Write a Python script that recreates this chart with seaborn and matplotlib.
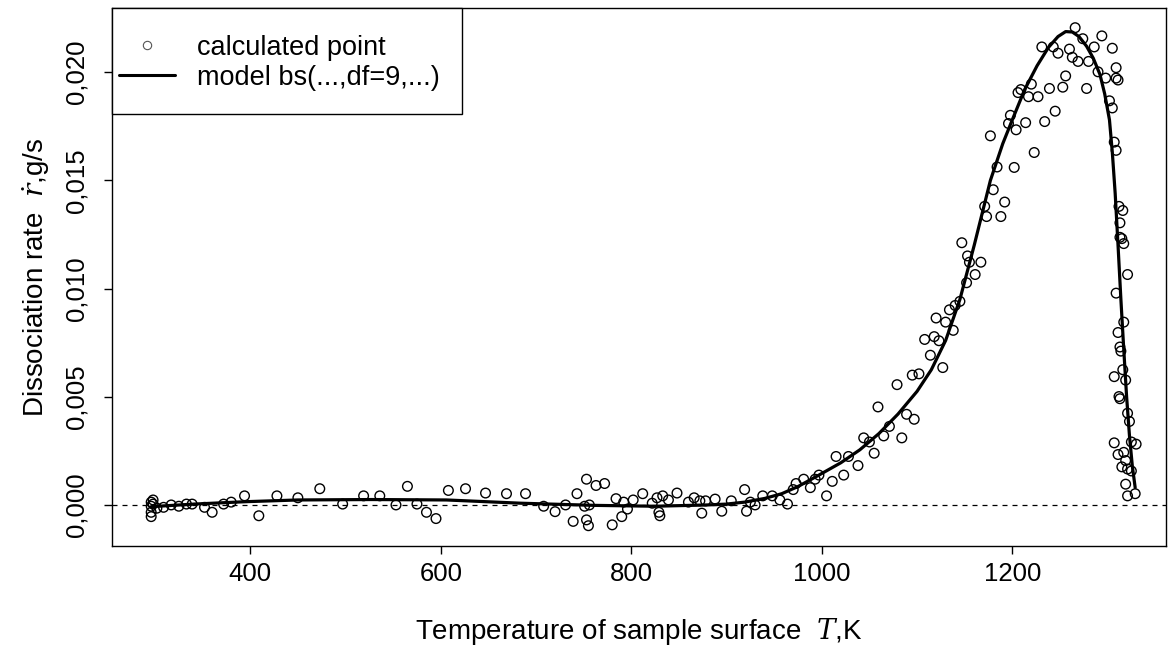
import numpy as np
import pandas as pd
import matplotlib
matplotlib.use("Agg")
import matplotlib.pyplot as plt
import seaborn as sns
from matplotlib.ticker import FuncFormatter
from matplotlib.lines import Line2D
from matplotlib.patches import Rectangle

# ---- data ----
temp_pts = [296, 296, 296, 296, 298, 298, 302, 309, 317, 325, 333, 339, 352, 360, 372, 380, 394, 409, 428, 450,
            473, 497, 519, 536, 553, 565, 575, 585, 595, 608, 626, 647, 669, 689, 708, 720, 731, 739, 743, 751,
            753, 753, 755, 756, 763, 772, 780, 784, 790, 792, 796, 802, 812, 822, 827, 829, 830, 833, 839, 848,
            860, 866, 872, 874, 878, 888, 895, 905, 919, 921, 925, 930, 938, 948, 956, 964, 970, 973, 981, 988,
            993, 997, 1005, 1011, 1015, 1023, 1028, 1038, 1044, 1050, 1055, 1059, 1065, 1071, 1079, 1084, 1089, 1095, 1097, 1102,
            1108, 1114, 1118, 1120, 1123, 1127, 1130, 1134, 1138, 1140, 1145, 1147, 1152, 1153, 1155, 1161, 1167, 1171, 1173, 1177,
            1180, 1184, 1188, 1192, 1196, 1198, 1202, 1204, 1206, 1209, 1214, 1217, 1220, 1223, 1227, 1231, 1234, 1239, 1243, 1245,
            1248, 1253, 1256, 1260, 1263, 1266, 1269, 1274, 1278, 1280, 1286, 1290, 1294, 1298, 1302, 1305, 1305, 1307, 1309, 1309,
            1309, 1311, 1312, 1313, 1313, 1315, 1316, 1317, 1321, 1309, 1311, 1313, 1314, 1317, 1307, 1313, 1316, 1319, 1321, 1323,
            1325, 1307, 1311, 1317, 1319, 1321, 1325, 1319, 1321, 1329, 1330, 1315, 1312]
rate_pts = [1.3, -0.6, -3.4, -5.4, 2.3, 0.4, -1.5, -1.1, 0.0, -0.6, 0.4, 0.4, -1.1, -3.4, 0.4, 1.3, 4.2, -5.0, 4.2, 3.3,
            7.5, 0.4, 4.2, 4.2, 0.0, 8.6, 0.4, -3.4, -6.3, 6.7, 7.5, 5.5, 5.2, 5.2, -0.6, -3.1, 0.0, -7.6, 5.2, -0.6,
            11.9, -6.9, -9.6, 0.0, 9.0, 9.9, -9.2, 2.9, -5.4, 1.3, -1.9, 2.3, 5.2, 0.8, 3.3, -3.4, -5.0, 4.2, 2.3, 5.5,
            1.3, 3.3, 1.9, -3.8, 1.9, 2.7, -2.9, 1.9, 7.1, -2.9, 1.3, 0.0, 4.2, 4.2, 2.3, 0.4, 7.1, 9.9, 11.9, 8.0,
            11.9, 13.8, 4.2, 10.9, 22.4, 13.8, 22.4, 18.2, 31.0, 29.1, 23.9, 45.3, 31.9, 36.3, 55.6, 31.0, 41.9, 60.0, 39.6, 60.6,
            76.5, 69.2, 77.8, 86.4, 75.9, 63.5, 84.5, 90.2, 80.7, 92.2, 94.1, 121.2, 102.7, 115.1, 112.2, 106.5, 112.2, 138.0, 133.3, 170.6,
            145.7, 156.2, 133.3, 140.0, 176.3, 180.1, 156.0, 173.4, 190.6, 192.0, 176.7, 188.7, 194.5, 162.9, 188.7, 211.7, 177.2, 192.5, 211.7, 182.0,
            208.8, 193.1, 198.3, 210.7, 206.9, 220.6, 205.0, 215.5, 192.5, 205.0, 211.7, 200.2, 216.8, 197.3, 186.8, 211.1, 183.5, 167.7, 202.1, 197.3,
            163.9, 196.4, 138.0, 130.4, 123.7, 123.1, 136.1, 120.8, 106.5, 97.9, 79.7, 73.0, 71.1, 84.5, 59.3, 49.1, 62.5, 57.7, 42.4, 38.6,
            29.1, 28.7, 23.3, 24.3, 20.5, 16.6, 15.7, 9.6, 4.2, 5.2, 28.1, 17.6, 50.1]
rate_pts = [r * 1e-4 for r in rate_pts]

temp_fit = [296, 341, 395, 450, 528, 606, 684, 762, 825, 880, 900, 919, 940, 958, 975, 997, 1020, 1040,
            1060, 1080, 1100, 1115, 1130, 1145, 1160, 1177, 1190, 1200, 1213, 1226, 1238, 1248, 1256, 1263,
            1270, 1278, 1285, 1292, 1297, 1302, 1305, 1308, 1311, 1314, 1317, 1320, 1323, 1326, 1329]
rate_fit = [-0.8, 0.4, 1.5, 2.3, 2.5, 2.3, 0.8, -0.2, -0.6, 0.0, 0.4, 1.3, 3.0, 5.2, 8.5, 13.8, 19.5, 25.5,
            33.0, 42.0, 52.5, 62.5, 76.0, 95.0, 120.0, 150.0, 167.0, 178.0, 192.0, 203.0, 211.5, 216.5, 218.8, 218.6,
            216.5, 212.0, 206.5, 199.0, 190.0, 178.0, 163.0, 144.0, 120.0, 95.0, 72.0, 50.0, 32.0, 18.0, 8.0]
rate_fit = [r * 1e-4 for r in rate_fit]

x_ticks = [400, 600, 800, 1000, 1200]
y_ticks = [0.000, 0.005, 0.010, 0.015, 0.020]

pts = pd.DataFrame({"T": temp_pts, "r": rate_pts})
fit = pd.DataFrame({"T": temp_fit, "r": rate_fit})

sns.set_theme(style="white")
plt.rcParams["font.family"] = ["Liberation Sans", "DejaVu Sans"]
plt.rcParams["mathtext.fontset"] = "dejavuserif"

fig = plt.figure(figsize=(11.68, 6.48), dpi=100)
ax = fig.add_axes([0.096, 0.157, 0.902, 0.831])

sns.scatterplot(data=pts, x="T", y="r", ax=ax, marker="o", s=48,
                facecolor="none", edgecolor="black", linewidth=1.0, legend=False, zorder=3)
sns.lineplot(data=fit, x="T", y="r", ax=ax, color="black", linewidth=2.3,
             estimator=None, sort=False, legend=False, zorder=4)
ax.axhline(0, color="black", linestyle=(0, (4, 4)), linewidth=0.9, zorder=2)

ax.set_xlim(255, 1361)
ax.set_ylim(-0.00191, 0.02298)
ax.set_xticks(x_ticks)
ax.set_yticks(y_ticks)
ax.yaxis.set_major_formatter(FuncFormatter(lambda v, p: f"{v:.3f}".replace(".", ",")))
ax.tick_params(axis="both", which="major", direction="out", length=6, width=1,
               color="black", labelsize=18.5, labelcolor="black", left=True, bottom=True)
ax.tick_params(axis="x", pad=5)
ax.tick_params(axis="y", pad=11)
for lab in ax.get_yticklabels():
    lab.set_rotation(90)
    lab.set_va("center")
for s in ax.spines.values():
    s.set_color("black")
    s.set_linewidth(1.0)

ax.set_xlabel(r"Temperature of sample surface  $\mathit{T}$,K", fontsize=20, color="black")
ax.set_ylabel(r"Dissociation rate  $\dot{\mathit{r}}$,g/s", fontsize=20, color="black")
ax.xaxis.set_label_coords(0.5, -0.13)
ax.yaxis.set_label_coords(-0.057, 0.5)

# legend frame touching the top-left corner of the plot box
ax.add_patch(Rectangle((0, 0.803), 0.332, 0.197, transform=ax.transAxes, facecolor="white",
                       edgecolor="black", linewidth=1.0, zorder=5, clip_on=False))
handles = [Line2D([0], [0], marker="o", linestyle="none", markerfacecolor="none",
                  markeredgecolor="#555555", markersize=6, markeredgewidth=0.8),
           Line2D([0], [0], color="black", linewidth=2.2)]
leg = ax.legend(handles, ["calculated point", "model bs(...,df=9,...)"], loc="center left",
                bbox_to_anchor=(0.0066, 0.898), borderaxespad=0, borderpad=0, fontsize=19.5,
                frameon=False, handlelength=2.07, handletextpad=0.8, labelspacing=0.15,
                labelcolor="black")
leg.set_zorder(6)

fig.savefig("out.png", dpi=100, facecolor="white")
